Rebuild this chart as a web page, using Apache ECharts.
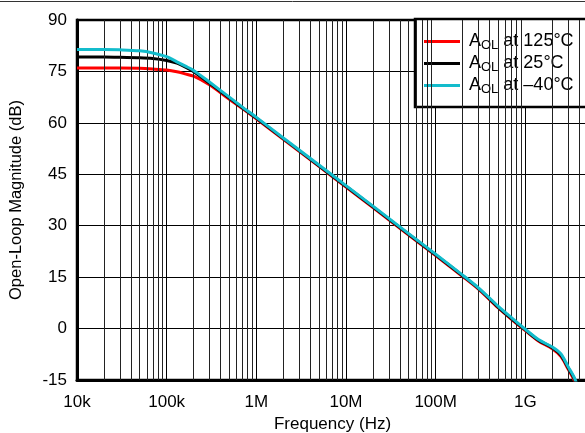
<!DOCTYPE html>
<html>
<head>
<meta charset="utf-8">
<script src="https://cdn.jsdelivr.net/npm/echarts@6/dist/echarts.min.js"></script>
<style>
html,body{margin:0;padding:0;background:#fff;}
#chart{width:585px;height:433px;}
</style>
</head>
<body>
<div id="chart"></div>
<script>
// Frequencies (Hz)
var freq = [1e4, 2e4, 3e4, 5e4, 7e4, 1e5, 1.3e5, 1.6e5, 2e5, 3e5, 5e5, 7e5, 1e6, 2e6, 5e6, 1e7, 2e7, 5e7, 1e8, 2e8, 3e8, 5e8, 7e8, 1e9, 1.4e9, 2e9, 2.5e9, 3e9, 3.5e9, 3.8e9];
// Open-loop magnitude (dB)
var aol125 = [76.0, 76.0, 76.0, 75.9, 75.7, 75.4, 74.9, 74.3, 73.6, 71.1, 66.9, 64.2, 61.2, 55.2, 47.3, 41.3, 35.3, 27.3, 21.3, 15.2, 11.5, 6.0, 2.7, -0.6, -3.6, -5.9, -8.2, -11.8, -15.0, -17.5];
var aol25  = [79.2, 79.2, 79.1, 79.0, 78.8, 78.2, 77.4, 76.3, 74.9, 71.6, 67.2, 64.4, 61.4, 55.4, 47.5, 41.5, 35.5, 27.5, 21.5, 15.4, 11.7, 6.2, 2.9, -0.4, -3.4, -5.6, -7.8, -11.4, -14.5, -17.0];
var aolM40 = [81.4, 81.4, 81.3, 81.0, 80.4, 79.3, 77.8, 76.6, 75.3, 71.9, 67.5, 64.6, 61.6, 55.6, 47.7, 41.7, 35.7, 27.7, 21.7, 15.6, 11.9, 6.5, 3.2, -0.2, -3.2, -5.4, -7.4, -11.1, -14.2, -16.6];
var seriesNames = ['AOL at 125°C', 'AOL at 25°C', 'AOL at –40°C'];
var seriesColors = ['#ff0000', '#000000', '#13bccc'];
var xTickLabels = {4: '10k', 5: '100k', 6: '1M', 7: '10M', 8: '100M', 9: '1G'};

function pairs(ys) { return freq.map(function (f, i) { return [f, ys[i]]; }); }

// minor vertical grid lines (2..9 per decade)
var minorLines = [];
for (var e = 4; e <= 9; e++) {
  for (var m = 2; m <= 9; m++) {
    var v = m * Math.pow(10, e);
    if (v <= 5e9) minorLines.push({ xAxis: v });
  }
}

var FONT = 'Liberation Sans, Arial, sans-serif';
var chart = echarts.init(document.getElementById('chart'), null, { renderer: 'canvas' });
var option = {
  animation: false,
  backgroundColor: '#fff',
  textStyle: { fontFamily: FONT },
  graphic: [{
    type: 'line', shape: { x1: 0, y1: 1.5, x2: 585, y2: 1.5 },
    style: { stroke: '#333', lineWidth: 1 }, silent: true
  }],
  grid: { left: 77, top: 20, width: 511, height: 360, show: true, borderColor: '#000', borderWidth: 2.5, backgroundColor: 'transparent', containLabel: false, outerBoundsMode: 'none' },
  legend: {
    left: 415, top: 19, orient: 'vertical',
    data: seriesNames,
    backgroundColor: '#fff', borderColor: '#000', borderWidth: 2.5,
    padding: [12, 30, 11, 9], itemGap: 1,
    itemWidth: 36, itemHeight: 3, icon: 'rect',
    selectedMode: false,
    formatter: function (name) { return '{p|A}{s|OL}{n|' + name.slice(3) + '}'; },
    textStyle: {
      fontFamily: FONT, color: '#000', fontSize: 18,
      rich: {
        p: { fontFamily: FONT, fontSize: 18, color: '#000', lineHeight: 18, padding: [0, 0, 0, 4] },
        n: { fontFamily: FONT, fontSize: 18, color: '#000', lineHeight: 18 },
        s: { fontFamily: FONT, fontSize: 13, color: '#000', padding: [8, 0, 0, 0], lineHeight: 12 }
      }
    }
  },
  xAxis: {
    type: 'log', logBase: 10, min: 1e4, max: 5e9, splitNumber: 6,
    name: 'Frequency (Hz)', nameLocation: 'middle', nameGap: 34,
    nameTextStyle: { fontFamily: FONT, fontSize: 17, color: '#000' },
    axisLine: { show: true, onZero: false, lineStyle: { color: '#000', width: 3 } },
    axisTick: { show: false },
    axisLabel: {
      fontFamily: FONT, fontSize: 17, color: '#000', margin: 14,
      formatter: function (v) {
        var k = Math.round(Math.log10(v));
        return Math.abs(Math.log10(v) - k) < 1e-6 && xTickLabels[k] ? xTickLabels[k] : '';
      }
    },
    splitLine: { show: true, lineStyle: { color: '#000', width: 1 } }
  },
  yAxis: {
    type: 'value', min: -15, max: 90, interval: 15,
    name: 'Open-Loop Magnitude (dB)', nameLocation: 'middle', nameGap: 52, nameRotate: 90,
    nameTextStyle: { fontFamily: FONT, fontSize: 16.5, color: '#000' },
    axisLine: { show: true, lineStyle: { color: '#000', width: 3 } },
    axisTick: { show: false },
    axisLabel: { fontFamily: FONT, fontSize: 17, color: '#000', margin: 10 },
    splitLine: { show: true, lineStyle: { color: '#000', width: 1 } }
  },
  series: [
    {
      type: 'line', name: '_grid', data: [], z: 1, silent: true,
      markLine: {
        silent: true, symbol: ['none', 'none'], animation: false,
        label: { show: false },
        lineStyle: { color: '#222', width: 1, type: 'solid' },
        emphasis: { disabled: true },
        data: minorLines
      }
    },
    { type: 'line', name: seriesNames[0], data: pairs(aol125), smooth: 0.3, showSymbol: false, z: 3,
      lineStyle: { color: seriesColors[0], width: 3 }, itemStyle: { color: seriesColors[0] } },
    { type: 'line', name: seriesNames[1], data: pairs(aol25), smooth: 0.3, showSymbol: false, z: 4,
      lineStyle: { color: seriesColors[1], width: 3 }, itemStyle: { color: seriesColors[1] } },
    { type: 'line', name: seriesNames[2], data: pairs(aolM40), smooth: 0.3, showSymbol: false, z: 5,
      lineStyle: { color: seriesColors[2], width: 3 }, itemStyle: { color: seriesColors[2] } }
  ]
};
chart.setOption(option);
</script>
</body>
</html>
